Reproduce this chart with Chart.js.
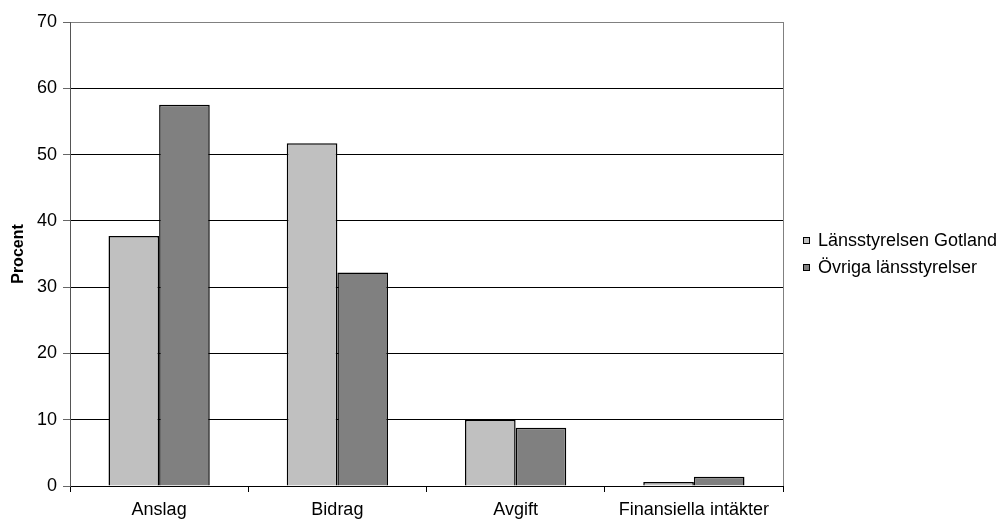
<!DOCTYPE html>
<html>
<head>
<meta charset="utf-8">
<script src="https://cdn.jsdelivr.net/npm/chart.js@4"></script>
<style>
  html, body { margin: 0; padding: 0; background: #fff; }
  #wrap { width: 996px; height: 519px; }
</style>
</head>
<body>
<div id="wrap"><canvas id="c" width="996" height="519"></canvas></div>
<script>
// Intäkter per typ, andel i procent
const categories = ['Anslag', 'Bidrag', 'Avgift', 'Finansiella intäkter'];
const gotland = [37.7, 51.7, 10.0, 0.6];
const ovriga = [57.5, 32.2, 8.8, 1.4];
const seriesNames = ['Länsstyrelsen Gotland', 'Övriga länsstyrelser'];
const yTitle = 'Procent';

const FONT = 'Liberation Sans, Arial, sans-serif';

// Legend drawn at the right of the plot, plus a grey frame on the right edge
const sideLegend = {
  id: 'sideLegend',
  afterDraw(chart) {
    const ctx = chart.ctx;
    const a = chart.chartArea;
    ctx.save();
    ctx.strokeStyle = '#808080';
    ctx.lineWidth = 1;
    ctx.beginPath();
    ctx.moveTo(Math.round(a.right) + 0.5, a.top);
    ctx.lineTo(Math.round(a.right) + 0.5, a.bottom);
    ctx.stroke();

    const x0 = 803;
    const rows = [240.5, 267.5];
    ctx.font = '18px ' + FONT;
    ctx.textBaseline = 'middle';
    ctx.textAlign = 'left';
    chart.data.datasets.forEach((ds, i) => {
      const y = rows[i];
      ctx.fillStyle = ds.backgroundColor;
      ctx.fillRect(x0, Math.round(y - 3.5), 7, 7);
      ctx.strokeStyle = '#000';
      ctx.strokeRect(x0 + 0.5, Math.round(y - 3.5) + 0.5, 6, 6);
      ctx.fillStyle = '#000';
      ctx.fillText(ds.label, 818, y + 1);
    });
    ctx.restore();
  }
};

new Chart(document.getElementById('c'), {
  type: 'bar',
  data: {
    labels: categories,
    datasets: [
      { label: seriesNames[0], data: gotland, backgroundColor: '#c0c0c0', borderColor: '#000', borderWidth: 1.5 },
      { label: seriesNames[1], data: ovriga, backgroundColor: '#808080', borderColor: '#000', borderWidth: 1.5 }
    ]
  },
  options: {
    responsive: false,
    animation: false,
    devicePixelRatio: 1,
    layout: { padding: { left: 0, top: 22, right: 213, bottom: 0 } },
    datasets: { bar: { categoryPercentage: 0.568, barPercentage: 1.0 } },
    plugins: { legend: { display: false }, tooltip: { enabled: false } },
    scales: {
      x: {
        offset: true,
        grid: {
          offset: true,
          drawOnChartArea: false,
          drawTicks: true,
          tickLength: 6,
          color: '#000'
        },
        border: { color: '#000', width: 1 },
        ticks: { color: '#000', font: { family: FONT, size: 18 }, padding: 7, maxRotation: 0, autoSkip: false },
        afterFit(scale) { scale.height = 33; }
      },
      y: {
        min: 0,
        max: 70,
        ticks: { stepSize: 10, color: '#000', font: { family: FONT, size: 18 }, padding: 6 },
        grid: {
          color: (c) => (c.tick && c.tick.value === 70 ? '#808080' : '#000'),
          tickColor: '#666',
          tickLength: 7,
          lineWidth: 1
        },
        border: { color: '#555', width: 1 },
        title: {
          display: true,
          text: yTitle,
          color: '#000',
          font: { family: FONT, size: 16, weight: 'bold' },
          padding: { top: 9, bottom: 0 }
        },
        afterFit(scale) { scale.width = 70; }
      }
    }
  },
  plugins: [sideLegend]
});
</script>
</body>
</html>
